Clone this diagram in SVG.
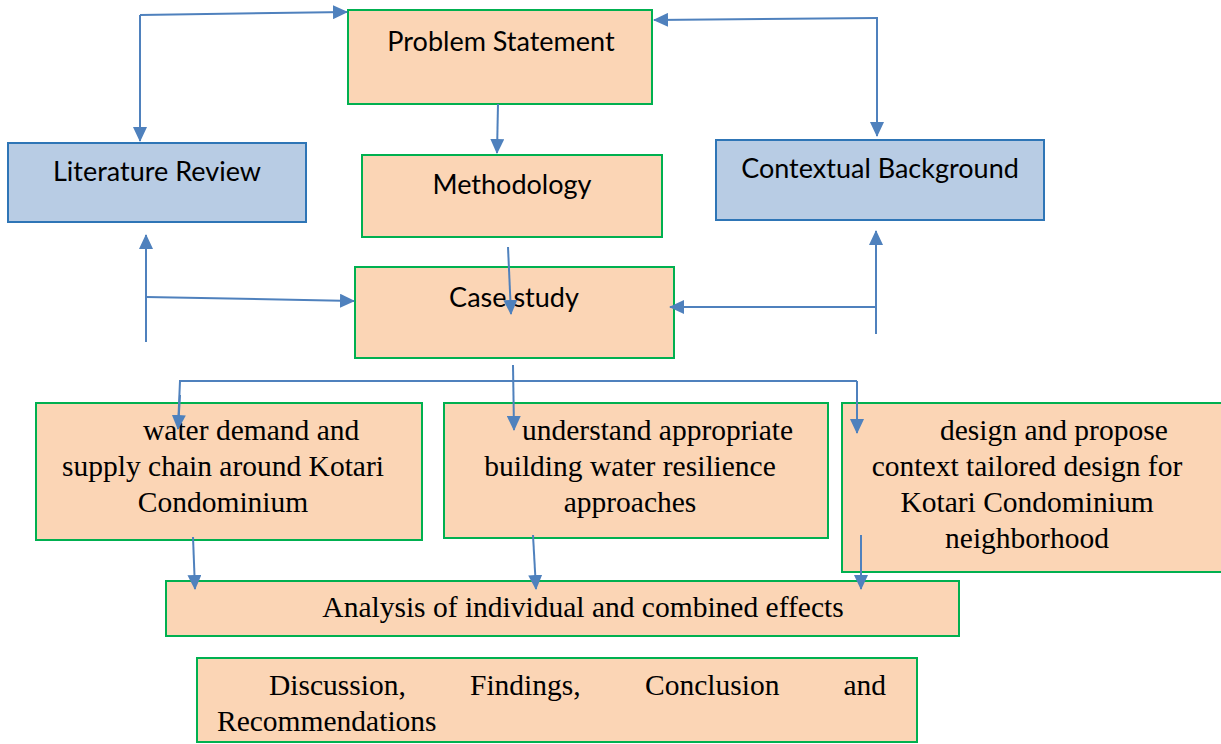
<svg xmlns="http://www.w3.org/2000/svg" width="1221" height="744" viewBox="0 0 1221 744">
<style>
.peach{fill:#fbd5b5;stroke:#00b050;stroke-width:2}
.blue{fill:#b8cce4;stroke:#2e75b6;stroke-width:2}
.sans{font-family:Lato,"Open Sans","Liberation Sans",sans-serif;font-size:27px;fill:#000}
.serif{font-family:"Liberation Serif","Times New Roman",serif;font-size:29.5px;fill:#000}
.c{stroke:#4f81bd;stroke-width:2;fill:none}
.a{marker-end:url(#ah)}
</style>
<defs>
<marker id="ah" markerUnits="userSpaceOnUse" markerWidth="15" markerHeight="14" refX="14" refY="7" orient="auto" viewBox="0 0 15 14">
<path d="M0,0 L15,7 L0,14 z" fill="#4f81bd"/>
</marker>
</defs>
<rect width="1221" height="744" fill="#fff"/>
<g id="problem-statement"><rect class="peach" x="348" y="10" width="304" height="94"/><text class="sans" x="501" y="51" text-anchor="middle">Problem Statement</text></g>
<g id="literature-review"><rect class="blue" x="8" y="143" width="298" height="79"/><text class="sans" x="157" y="181" text-anchor="middle">Literature Review</text></g>
<g id="methodology"><rect class="peach" x="362" y="155" width="300" height="82"/><text class="sans" x="512" y="194" text-anchor="middle">Methodology</text></g>
<g id="contextual-background"><rect class="blue" x="716" y="140" width="328" height="80"/><text class="sans" x="880" y="178" text-anchor="middle">Contextual Background</text></g>
<g id="case-study"><rect class="peach" x="355" y="267" width="319" height="91"/><text class="sans" x="514" y="307" text-anchor="middle">Case study</text></g>
<g id="water-demand"><rect class="peach" x="36" y="403" width="386" height="137"/>
<text class="serif" x="143" y="440">water demand and</text>
<text class="serif" x="223" y="476" text-anchor="middle">supply chain around Kotari</text>
<text class="serif" x="223" y="512" text-anchor="middle">Condominium</text></g>
<g id="resilience"><rect class="peach" x="444" y="403" width="384" height="135"/>
<text class="serif" x="522" y="440">understand appropriate</text>
<text class="serif" x="630" y="476" text-anchor="middle">building water resilience</text>
<text class="serif" x="630" y="512" text-anchor="middle">approaches</text></g>
<g id="design"><rect class="peach" x="842" y="403" width="382" height="169"/>
<text class="serif" x="940" y="440">design and propose</text>
<text class="serif" x="1027" y="476" text-anchor="middle">context tailored design for</text>
<text class="serif" x="1027" y="512" text-anchor="middle">Kotari Condominium</text>
<text class="serif" x="1027" y="548" text-anchor="middle">neighborhood</text></g>
<g id="analysis"><rect class="peach" x="166" y="581" width="793" height="55"/><text class="serif" x="583" y="617" text-anchor="middle">Analysis of individual and combined effects</text></g>
<g id="discussion"><rect class="peach" x="197" y="658" width="720" height="84"/>
<text class="serif" y="695"><tspan x="269">Discussion,</tspan><tspan x="470">Findings,</tspan><tspan x="645">Conclusion</tspan><tspan x="886" text-anchor="end">and</tspan></text>
<text class="serif" x="217" y="731">Recommendations</text></g>
<g id="connectors">
<path class="c a" d="M140,15 L140,141"/>
<path class="c a" d="M140,15 L347,12"/>
<path class="c a" d="M877,17 L877,136"/>
<path class="c a" d="M877,18 L654,20"/>
<path class="c a" d="M498,104 L497,153"/>
<path class="c a" d="M508,247 L511,314"/>
<path class="c a" d="M146,342 L146,235"/>
<path class="c a" d="M146,297 L354,301"/>
<path class="c a" d="M876,334 L876,231"/>
<path class="c a" d="M876,307 L670,307"/>
<path class="c a" d="M513,365 L514,430"/>
<path class="c" d="M178,428 L180,381 L857,381"/>
<path class="c a" d="M180,395 L178,429"/>
<path class="c a" d="M857,381 L857,433"/>
<path class="c a" d="M193,537 L195,589"/>
<path class="c a" d="M533,535 L536,589"/>
<path class="c a" d="M861,535 L861,589"/>
</g>
</svg>
